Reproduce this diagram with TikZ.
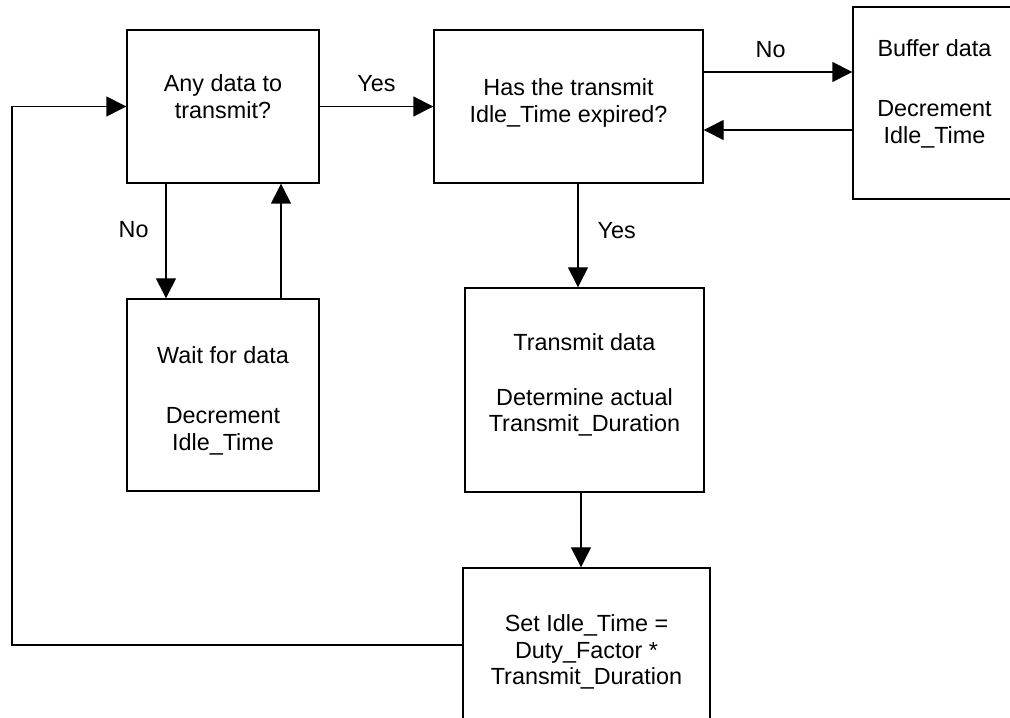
\documentclass[tikz,border=0pt]{standalone}
\usepackage{fontspec}
\setmainfont{Liberation Sans}
\usetikzlibrary{arrows.meta,positioning}
\tikzset{box/.style={draw,line width=0.8pt,rectangle,align=center,inner sep=0pt},
         lbl/.style={inner sep=0pt},
         arr/.style={line width=0.8pt,-{Triangle[length=0.4cm,width=0.4cm]}}}
% extra empty line at the bottom, lifts the text inside a box
\newcommand{\lowpad}[1]{\\[#1]\mbox{}}

\begin{document}
\begin{tikzpicture}[font=\fontsize{13.3pt}{15.3pt}\selectfont]
    \useasboundingbox (0,0) rectangle (20.2,14.34);

    % Boxes:
    \node [box,minimum width=3.84cm,minimum height=3.06cm] (anydata) at (4.46,12.21)
        {Any data to\\transmit?\lowpad{-0.14cm}};
    \node [box,minimum width=5.38cm,minimum height=3.06cm] (expired) at (11.37,12.21)
        {Has the transmit\\Idle\_Time expired?\lowpad{-0.3cm}};
    \node [box,minimum width=3.26cm,minimum height=3.84cm] (buffer) at (18.69,12.28)
        {Buffer data\\[0.66cm]Decrement\\Idle\_Time\lowpad{-0.08cm}};
    \node [box,minimum width=3.84cm,minimum height=3.84cm] (waitdata) at (4.46,6.44)
        {\mbox{}\\[0.04cm]Wait for data\\[0.66cm]Decrement\\Idle\_Time};
    \node [box,minimum width=4.78cm,minimum height=4.08cm] (transmit) at (11.69,6.54)
        {Transmit data\\[0.56cm]Determine actual\\Transmit\_Duration\lowpad{-0.24cm}};
    \node [box,minimum width=4.94cm,minimum height=3.8cm] (setidle) at (11.73,1.08)
        {Set Idle\_Time =\\Duty\_Factor *\\Transmit\_Duration\lowpad{0cm}};

    % Arrows:
    \draw [arr] (anydata.east) -- (expired.west) node [lbl,midway,above=8pt] (yes1) {Yes};
    \draw [arr] ([yshift=0.69cm]expired.east) -- ([yshift=0.69cm]expired.east -| buffer.west)
        node [lbl,pos=0.45,above=8pt] (no1) {No};
    \draw [arr] ([yshift=-0.47cm]expired.east -| buffer.west) -- ([yshift=-0.47cm]expired.east);

    \draw [arr] ([xshift=-1.14cm]anydata.south) -- ([xshift=-1.14cm]waitdata.north)
        node [lbl,pos=0.4,left=9.5pt] (no2) {No};
    \draw [arr] ([xshift=1.16cm]waitdata.north) -- ([xshift=1.16cm]anydata.south);

    \draw [arr] ([xshift=0.19cm]expired.south) -- ([xshift=0.19cm]expired.south |- transmit.north)
        node [lbl,pos=0.45,right=10.8pt] (yes2) {Yes};
    \draw [arr] ([xshift=-0.07cm]transmit.south) -- ([xshift=-0.07cm]transmit.south |- setidle.north);

    % loop back to the start
    \coordinate (loop) at (0.24,1.44);
    \draw [arr] (loop -| setidle.west) -- (loop) |- (anydata.west);
\end{tikzpicture}
\end{document}
